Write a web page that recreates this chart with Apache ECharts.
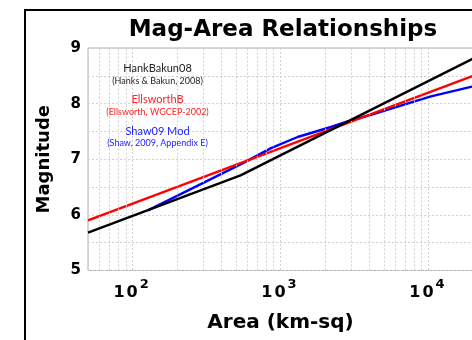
<!DOCTYPE html>
<html>
<head>
<meta charset="utf-8">
<script src="https://cdn.jsdelivr.net/npm/echarts@6/dist/echarts.min.js"></script>
<style>
html,body{margin:0;padding:0;overflow:hidden;background:#fff;width:472px;height:340px;}
#chart{width:520px;height:340px;}
</style>
</head>
<body>
<div id="chart"></div>
<script>
// ---- data ----
var titleText = 'Mag-Area Relationships';
var xName = 'Area (km-sq)';
var yName = 'Magnitude';
var xMin = 50, xMax = 20000;
var yMin = 5, yMax = 9;
// HankBakun08 (area km^2, magnitude)
var hankBakun08 = [[50, 5.68], [537, 6.71], [20000, 8.81]];
// EllsworthB
var ellsworthB = [[50, 5.90], [20000, 8.50]];
// Shaw09 Mod
var shaw09Mod = [[127, 6.08], [558, 6.93], [863, 7.20], [1306, 7.40], [2193, 7.58],
                 [2844, 7.68], [4084, 7.80], [10400, 8.13], [20000, 8.31]];
// minor vertical grid positions (log decades)
var minorGridX = [60, 70, 80, 90, 200, 300, 400, 500, 600, 700, 800, 900,
                  2000, 3000, 4000, 5000, 6000, 7000, 8000, 9000];
var legendLines = [
  {name: 'HankBakun08', note: '(Hanks & Bakun, 2008)', color: '#222222'},
  {name: 'EllsworthB', note: '(Ellsworth, WGCEP-2002)', color: '#ff2222'},
  {name: 'Shaw09 Mod', note: '(Shaw, 2009, Appendix E)', color: '#2222ff'}
];

var chart = echarts.init(document.getElementById('chart'), null, {renderer: 'canvas'});
var gridColor = '#cfcfcf';
var boldFont = 'DejaVu Sans';

var graphics = [{
  type: 'rect', silent: true, z: 100,
  shape: {x: 25, y: 10, width: 700, height: 500},
  style: {fill: 'none', stroke: '#000', lineWidth: 2}
}];
var ly = [68.5, 99.5, 131];
legendLines.forEach(function (l, i) {
  graphics.push({type: 'text', silent: true, z: 50, style: {
    x: 157.5, y: ly[i], text: l.name, fill: l.color, align: 'center', verticalAlign: 'middle',
    font: '11px Lato'}});
  graphics.push({type: 'text', silent: true, z: 50, style: {
    x: 157.5, y: ly[i] + 12.5, text: l.note, fill: l.color, align: 'center', verticalAlign: 'middle',
    font: '9px Lato'}});
});

var option = {
  animation: false,
  backgroundColor: '#fff',
  title: {
    text: titleText, left: 278, top: 14, textAlign: 'center',
    textStyle: {fontFamily: boldFont, fontWeight: 'bold', fontSize: 23, color: '#000'}
  },
  grid: {left: 88, right: 47, top: 48, bottom: 69.5, show: true, borderColor: '#b0b0b0', borderWidth: 1, backgroundColor: '#fff'},
  xAxis: {
    type: 'log', logBase: 10, min: xMin, max: xMax,
    name: xName, nameLocation: 'middle', nameGap: 42,
    nameTextStyle: {fontFamily: boldFont, fontWeight: 'bold', fontSize: 20, color: '#000'},
    axisLine: {show: false}, axisTick: {show: false},
    splitLine: {show: true, lineStyle: {color: gridColor, type: [2, 2], width: 1}},
    axisLabel: {
      showMinLabel: false, showMaxLabel: false, margin: 9,
      formatter: function (v) {
        var e = Math.log10(v);
        if (Math.abs(e - Math.round(e)) > 1e-6) return '';
        return '{o|1}{b|0}{s|' + Math.round(e) + '}{p|}';
      },
      rich: {
        o: {fontFamily: boldFont, fontWeight: 'bold', fontSize: 16, color: '#000', lineHeight: 18, padding: [8, 2, 0, 0]},
        b: {fontFamily: boldFont, fontWeight: 'bold', fontSize: 16, color: '#000', lineHeight: 18, padding: [8, 2, 0, 0]},
        s: {fontFamily: boldFont, fontWeight: 'bold', fontSize: 13, color: '#000', lineHeight: 13, padding: [0, 0, 8, 0]},
        p: {width: 3}
      }
    }
  },
  yAxis: {
    type: 'value', min: yMin, max: yMax, interval: 0.5,
    name: yName, nameLocation: 'middle', nameGap: 35, nameRotate: 90,
    nameTextStyle: {fontFamily: boldFont, fontWeight: 'bold', fontSize: 18, color: '#000'},
    axisLine: {show: false}, axisTick: {show: false},
    splitLine: {show: true, lineStyle: {color: gridColor, type: [2, 2], width: 1}},
    axisLabel: {
      margin: 7, fontFamily: boldFont, fontWeight: 'bold', fontSize: 15, color: '#000',
      formatter: function (v) { return Math.abs(v - Math.round(v)) < 1e-6 ? String(Math.round(v)) : ''; }
    }
  },
  graphic: graphics,
  series: [
    {
      type: 'line', name: 'grid', data: [], silent: true,
      markLine: {
        silent: true, symbol: ['none', 'none'], label: {show: false},
        lineStyle: {color: gridColor, type: [2, 2], width: 1},
        data: minorGridX.map(function (x) { return {xAxis: x}; })
      }
    },
    {type: 'line', name: 'Shaw09 Mod', data: shaw09Mod, showSymbol: false, symbol: 'none', lineStyle: {color: '#0000ff', width: 2.4}, z: 3},
    {type: 'line', name: 'EllsworthB', data: ellsworthB, showSymbol: false, symbol: 'none', lineStyle: {color: '#ff0000', width: 2.4}, z: 4},
    {type: 'line', name: 'HankBakun08', data: hankBakun08, showSymbol: false, symbol: 'none', lineStyle: {color: '#000000', width: 2.4}, z: 5}
  ]
};
chart.setOption(option);
</script>
</body>
</html>
